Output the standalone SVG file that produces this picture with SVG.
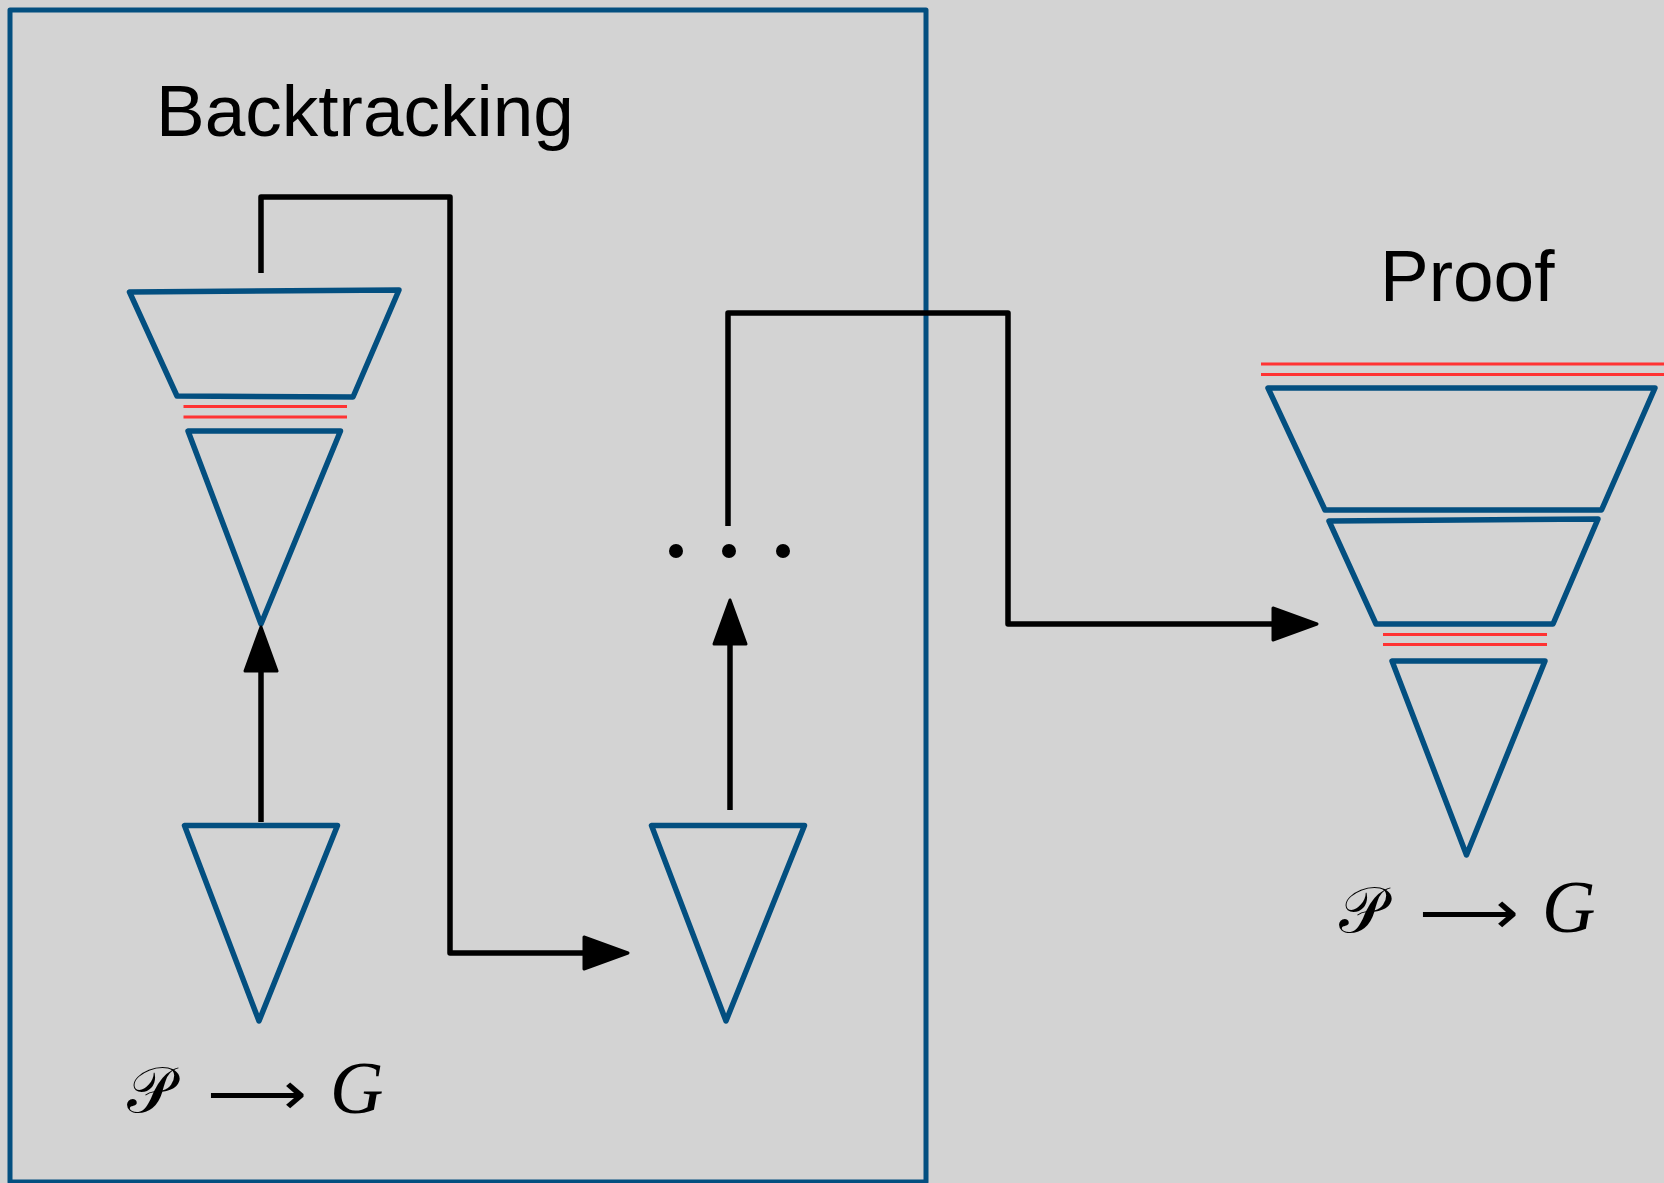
<svg xmlns="http://www.w3.org/2000/svg" width="1664" height="1183" viewBox="0 0 1664 1183">
<style>
.bg{fill:#d3d3d3}
.box{fill:none;stroke:#034f80;stroke-width:5;stroke-linejoin:round}
.sh{fill:none;stroke:#034f80;stroke-width:5.5;stroke-linejoin:round}
.red{stroke:#ff3333;stroke-width:3.2}
.con{fill:none;stroke:#000;stroke-width:5.5;stroke-linejoin:round}
.title{font-family:"Liberation Sans",Arial,sans-serif;font-size:73px;fill:#000}
.math{font-family:"Liberation Serif","DejaVu Serif",serif;font-style:italic;font-size:74px;fill:#000}
.cal{font-family:"DejaVu Serif","DejaVu Sans","Noto Sans",serif;font-size:64px;fill:#000}
.arr{font-family:"DejaVu Sans",sans-serif;font-size:60px;fill:#000}
</style>
<defs>
<marker id="ah" markerUnits="userSpaceOnUse" viewBox="-3 -19 52 38" refX="0" refY="0" markerWidth="52" markerHeight="38" orient="auto">
<path d="M0,-16 L44,0 L0,16 Z" fill="#000" stroke="#000" stroke-width="3" stroke-linejoin="round"/>
</marker>
</defs>
<rect class="bg" x="0" y="0" width="1664" height="1183"/>
<g id="backtracking-box">
<rect class="box" x="10" y="10" width="916" height="1172"/>
<text class="title" x="156" y="136">Backtracking</text>
</g>
<g id="proof-title">
<text class="title" x="1380" y="301">Proof</text>
</g>
<g id="left-top-stack">
<polygon class="sh" points="129.5,292 399,290 353,397 177,396"/>
<line class="red" x1="183.5" y1="406.5" x2="347" y2="406.5"/>
<line class="red" x1="183.5" y1="417" x2="347" y2="417"/>
<polygon class="sh" points="188,431 340.5,431 261,624"/>
</g>
<g id="left-bottom-tree">
<polygon class="sh" points="184.5,825.5 337.5,825.5 259,1021"/>
</g>
<g id="middle-tree">
<polygon class="sh" points="651.5,825.5 804.5,825.5 726,1021"/>
</g>
<g id="dots">
<circle cx="676" cy="551" r="7"/>
<circle cx="729" cy="551" r="7"/>
<circle cx="783" cy="551" r="7"/>
</g>
<g id="proof-stack">
<line class="red" x1="1261" y1="364" x2="1664" y2="364"/>
<line class="red" x1="1261" y1="374.5" x2="1664" y2="374.5"/>
<polygon class="sh" points="1268,388 1655,388 1601.5,510 1325,510"/>
<polygon class="sh" points="1329,521 1598,519 1553,624 1376,624"/>
<line class="red" x1="1383" y1="634.5" x2="1547" y2="634.5"/>
<line class="red" x1="1383" y1="644.5" x2="1547" y2="644.5"/>
<polygon class="sh" points="1392,661 1545,661 1466.5,855"/>
</g>
<g id="label-left">
<text class="cal" x="127" y="1112">𝒫</text>
<text class="arr" x="207" y="1114" textLength="100" lengthAdjust="spacingAndGlyphs">⟶</text>
<text class="math" x="330" y="1113">G</text>
</g>
<g id="label-right">
<text class="cal" x="1339" y="932">𝒫</text>
<text class="arr" x="1419" y="933" textLength="100" lengthAdjust="spacingAndGlyphs">⟶</text>
<text class="math" x="1542" y="932">G</text>
</g>
<g id="connectors">
<path class="con" d="M261,273 V197 H450 V953 H584" marker-end="url(#ah)"/>
<path class="con" d="M728,526 V313 H1008 V624 H1273" marker-end="url(#ah)"/>
<path class="con" d="M261,822 V671" marker-end="url(#ah)"/>
<path class="con" d="M730,810 V644" marker-end="url(#ah)"/>
</g>
</svg>
